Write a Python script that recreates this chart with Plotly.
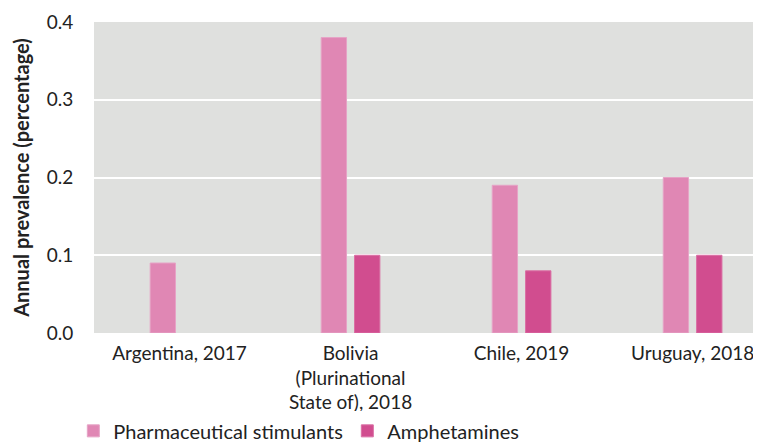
import plotly.graph_objects as go

countries = ["Argentina, 2017", "Bolivia<br>(Plurinational<br>State of), 2018", "Chile, 2019", "Uruguay, 2018"]
pharma = [0.09, 0.38, 0.19, 0.20]
amphet = [None, 0.10, 0.08, 0.10]
y_ticks = [0.0, 0.1, 0.2, 0.3, 0.4]

fig = go.Figure()

fig.add_trace(go.Bar(
    x=countries,
    y=pharma,
    name="Pharmaceutical stimulants",
    marker=dict(color="#E087B4", line=dict(color="#E6A3C6", width=1)),
))

fig.add_trace(go.Bar(
    x=countries,
    y=amphet,
    name="Amphetamines",
    marker=dict(color="#D14D8F", line=dict(color="#DA6FA4", width=1)),
))

fig.update_layout(
    width=753,
    height=434,
    barmode="group",
    bargap=0.61,
    bargroupgap=0.24,
    plot_bgcolor="#DFE0DE",
    paper_bgcolor="white",
    margin=dict(l=86, r=0, t=14, b=109, autoexpand=False),
    font=dict(family="Lato", size=19, color="#222222"),
    xaxis=dict(
        range=[-0.5, 3.4],
        showgrid=False,
        ticks="",
        ticklabelstandoff=7,
        automargin=False,
        tickfont=dict(size=19),
    ),
    yaxis=dict(
        range=[0, 0.4],
        tickvals=y_ticks,
        tickformat=".1f",
        showgrid=True,
        gridcolor="white",
        gridwidth=2,
        zeroline=False,
        ticks="outside",
        ticklen=16,
        tickcolor="rgba(0,0,0,0)",
        automargin=False,
        tickfont=dict(size=19),
        title=dict(text="<b>Annual prevalence (percentage)</b>", font=dict(size=20), standoff=11),
    ),
    showlegend=True,
    legend=dict(
        orientation="h",
        x=-0.031,
        xanchor="left",
        y=-0.252,
        yanchor="top",
        font=dict(size=20),
        entrywidth=229,
        traceorder="normal",
    ),
)

fig.write_html("out.html")
